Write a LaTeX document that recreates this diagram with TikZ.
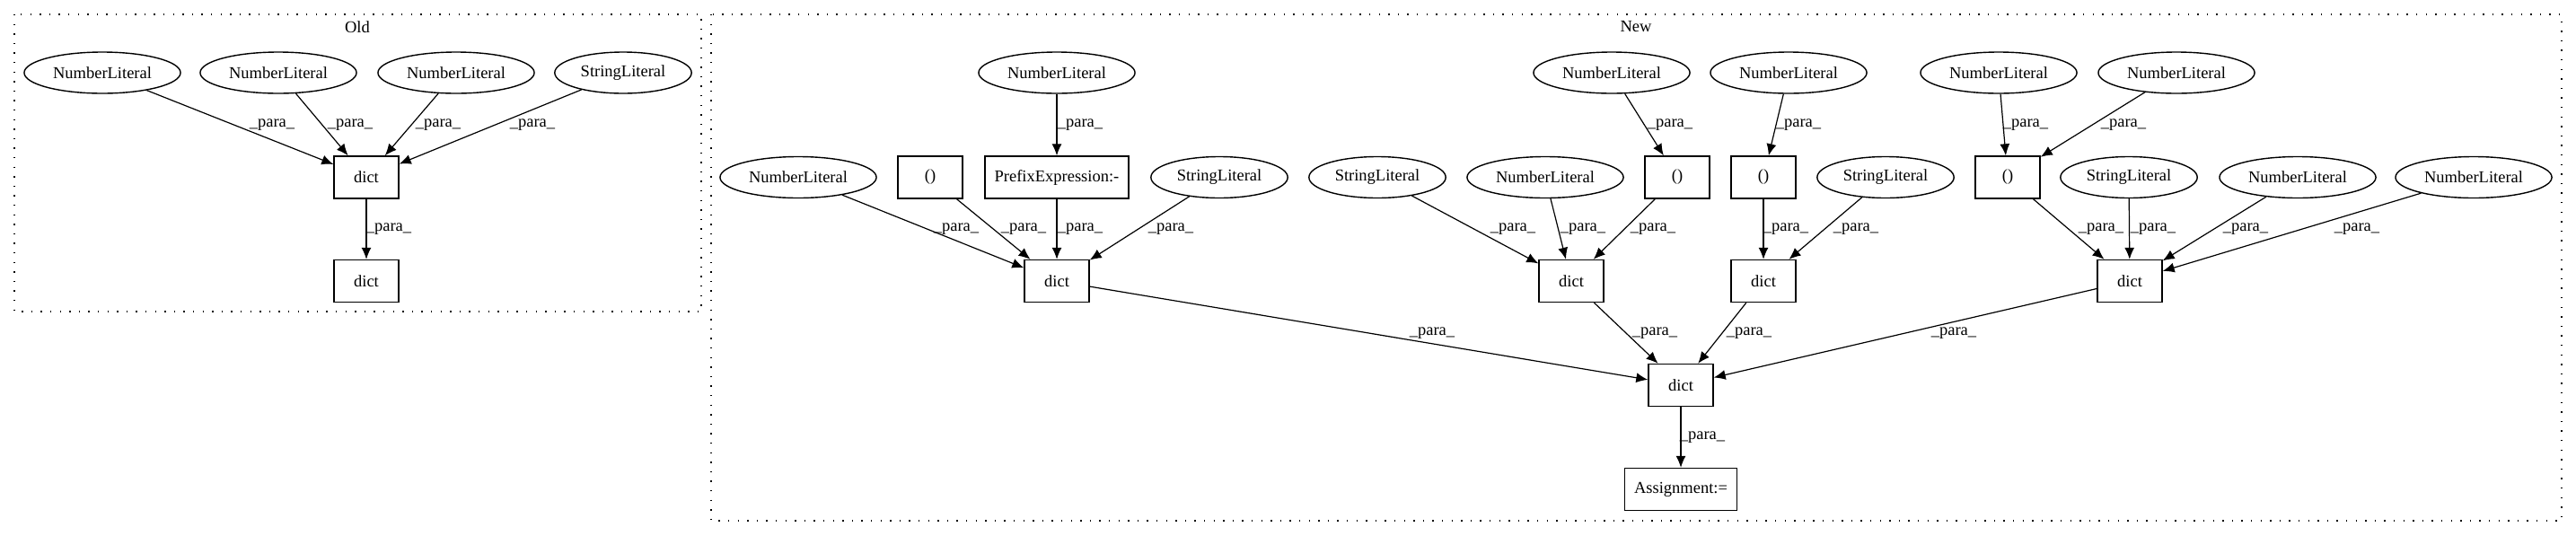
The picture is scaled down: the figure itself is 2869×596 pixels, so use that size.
\documentclass[tikz,border=0pt]{standalone}
\usepackage{fontspec}
\setmainfont{Liberation Serif}
\usetikzlibrary{shapes.geometric,arrows.meta}
\newcommand{\paraedge}[3]{\draw[type-edge] (#1) -- (#2) node[type-label] (#1-#2) at (#3) {\_para\_};}
\begin{document}
\begin{tikzpicture}[x=0.5pt, y=-0.5pt,
      type-literal/.style={ellipse, draw, line width=0.7pt, inner xsep=3.3pt, inner ysep=1pt, minimum height=23pt},
      type-box/.style={rectangle, draw, line width=0.7pt, inner xsep=5.3pt, minimum width=36pt, minimum height=23.5pt},
      type-label/.style={inner sep=0pt},
      type-cluster/.style={draw, line width=0.7pt, dash pattern=on 0.7pt off 4.6pt},
      type-edge/.style={-{Latex[length=6.5pt,width=5.5pt]}, line width=0.6pt},
      every node/.style={font=\fontsize{9.25pt}{11pt}\selectfont}
    ]
      \useasboundingbox (0,0) rectangle (2869,596);
      \draw[type-cluster] (16,16) rectangle (781,347);
      \draw[type-cluster] (792,16) rectangle (2853,580);
      \node (old-title) at (398,30) {Old};
      \node (new-title) at (1822,30) {New};

      \node[type-literal] (nlA) at (114,81) {NumberLiteral};
      \node[type-literal] (nlB) at (310,81) {NumberLiteral};
      \node[type-literal] (nlC) at (508,81) {NumberLiteral};
      \node[type-literal] (slA) at (694,81) {StringLiteral};
      \node[type-box] (dictA) at (408,197.5) {dict};
      \node[type-box] (dictB) at (408,313) {dict};

      \node[type-literal] (nl1) at (1177,81) {NumberLiteral};
      \node[type-literal] (nl2) at (1795,81) {NumberLiteral};
      \node[type-literal] (nl3) at (1992,81) {NumberLiteral};
      \node[type-literal] (nl4) at (2226,81) {NumberLiteral};
      \node[type-literal] (nl5) at (2424,81) {NumberLiteral};

      \node[type-literal] (nl6) at (889,197.5) {NumberLiteral};
      \node[type-box] (tup1) at (1036,197.5) {()};
      \node[type-box] (prefix) at (1177,197.5) {PrefixExpression:-};
      \node[type-literal] (sl1) at (1358,197.5) {StringLiteral};
      \node[type-literal] (sl2) at (1534,197.5) {StringLiteral};
      \node[type-literal] (nl7) at (1721,197.5) {NumberLiteral};
      \node[type-box] (tup2) at (1868,197.5) {()};
      \node[type-box] (tup3) at (1964,197.5) {()};
      \node[type-literal] (sl3) at (2100,197.5) {StringLiteral};
      \node[type-box] (tup4) at (2236,197.5) {()};
      \node[type-literal] (sl4) at (2371,197.5) {StringLiteral};
      \node[type-literal] (nl8) at (2559,197.5) {NumberLiteral};
      \node[type-literal] (nl9) at (2755,197.5) {NumberLiteral};

      \node[type-box] (dict1) at (1177,313) {dict};
      \node[type-box] (dict2) at (1750,313) {dict};
      \node[type-box] (dict3) at (1964,313) {dict};
      \node[type-box] (dict4) at (2372,313) {dict};
      \node[type-box] (dictC) at (1872,429) {dict};
      \node[type-box] (assign) at (1872,545) {Assignment:=};

      \paraedge{nlA}{dictA}{303,139}
      \paraedge{nlB}{dictA}{390,139}
      \paraedge{nlC}{dictA}{488,139}
      \paraedge{slA}{dictA}{593,139}
      \paraedge{dictA}{dictB}{433,255}

      \paraedge{nl1}{prefix}{1203,139}
      \paraedge{nl2}{tup2}{1860,139}
      \paraedge{nl3}{tup3}{2003,139}
      \paraedge{nl4}{tup4}{2256,139}
      \paraedge{nl5}{tup4}{2365,139}

      \paraedge{nl6}{dict1}{1065,255}
      \paraedge{tup1}{dict1}{1140,255}
      \paraedge{prefix}{dict1}{1203,255}
      \paraedge{sl1}{dict1}{1304,255}
      \paraedge{sl2}{dict2}{1685,255}
      \paraedge{nl7}{dict2}{1763,255}
      \paraedge{tup2}{dict2}{1841,255}
      \paraedge{tup3}{dict3}{1989,255}
      \paraedge{sl3}{dict3}{2067,255}
      \paraedge{tup4}{dict4}{2340,255}
      \paraedge{sl4}{dict4}{2398,255}
      \paraedge{nl8}{dict4}{2501,255}
      \paraedge{nl9}{dict4}{2625,255}

      \paraedge{dict1}{dictC}{1595,371}
      \paraedge{dict2}{dictC}{1843,371}
      \paraedge{dict3}{dictC}{1948,371}
      \paraedge{dict4}{dictC}{2176,371}
      \paraedge{dictC}{assign}{1896,487}
    \end{tikzpicture}
\end{document}
